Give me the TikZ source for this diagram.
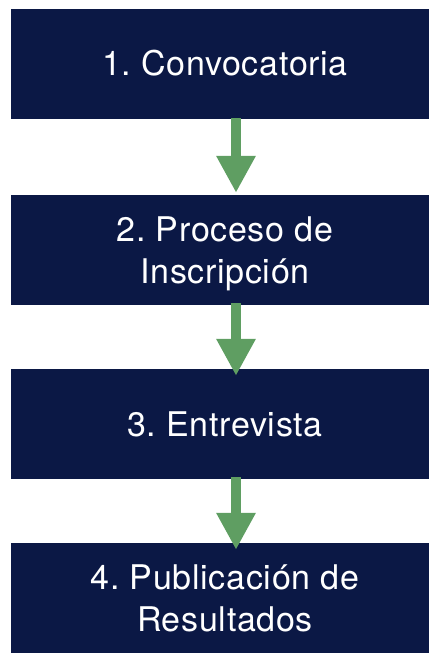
\documentclass[tikz,border=0pt]{standalone}
\usepackage{fontspec}
\setmainfont{TeX Gyre Heros}[LetterSpace=2]
\usetikzlibrary{arrows.meta}
\definecolor{navy}{HTML}{0B1845}
\definecolor{flowgreen}{HTML}{5F9E62}
\newcommand{\boxtext}[1]{\begin{tabular}[t]{@{\hspace{10pt}}c@{}}#1\end{tabular}}
\tikzset{
  stepbox/.style={fill=navy, draw=none, minimum width=418pt, minimum height=110pt,
    inner sep=0pt, text=white, font=\fontsize{34}{41.5}\selectfont\frenchspacing},
  oneline/.style={text height=24pt, text depth=0pt},
  twoline/.style={text height=0pt, text depth=17pt},
  flow/.style={draw=flowgreen, line width=9.5pt,
    -{Triangle[width=37pt,length=37pt]}}
}
\begin{document}
\begin{tikzpicture}[x=1pt,y=-1pt]
\useasboundingbox (0,0) rectangle (442,668);
\node[stepbox, oneline] (s1) at (220,64) {\boxtext{1. Convocatoria}};
\node[stepbox, twoline] (s2) at (220,250) {\boxtext{2. Proceso de\\Inscripción}};
\node[stepbox, oneline] (s3) at (220,424) {\boxtext{3. Entrevista}};
\node[stepbox, twoline] (s4) at (220,598) {\boxtext{4. Publicación de\\Resultados}};
\draw[flow, shorten <=-1pt, shorten >=2pt] ([xshift=16pt]s1.south) -- ([xshift=16pt]s2.north);
\draw[flow, shorten <=-2pt, shorten >=-7pt] ([xshift=16pt]s2.south) -- ([xshift=16pt]s3.north);
\draw[flow, shorten <=-2pt, shorten >=-7pt] ([xshift=16pt]s3.south) -- ([xshift=16pt]s4.north);
\end{tikzpicture}
\end{document}
